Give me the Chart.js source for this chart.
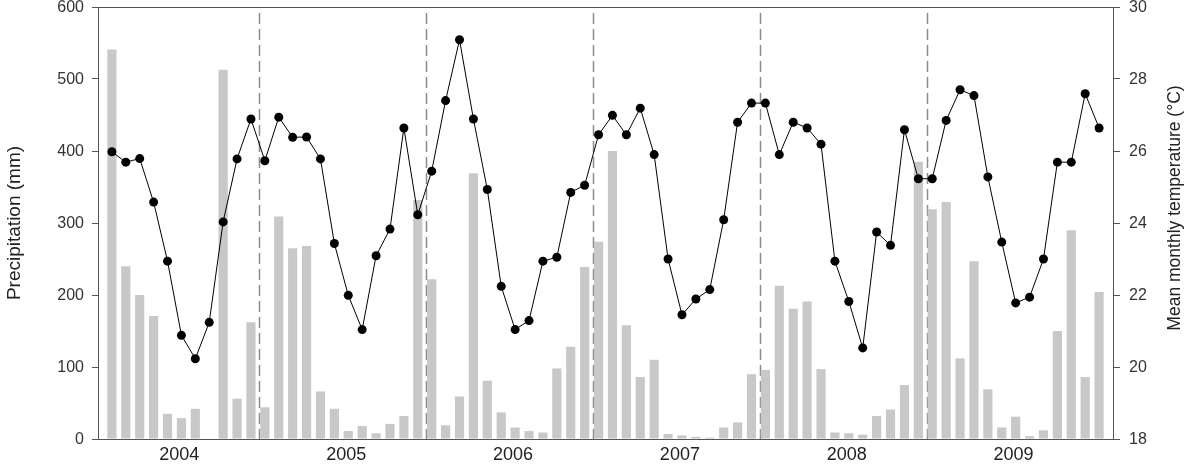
<!DOCTYPE html>
<html>
<head>
<meta charset="utf-8">
<script src="https://cdn.jsdelivr.net/npm/chart.js@4/dist/chart.umd.min.js"></script>
<style>
  body { margin: 0; background: #fff; }
  canvas { display: block; }
</style>
</head>
<body>
<canvas id="chart" width="1197" height="469"></canvas>
<script>
// monthly precipitation (mm), Jan 2004 .. Dec 2009
const precipitation = [
  541, 240, 200, 171, 35, 29, 42, 0, 513, 56, 162, 44,
  309, 265, 268, 66, 42, 11, 18, 8, 21, 32, 332, 222,
  19, 59, 369, 81, 37, 16, 11, 9, 98, 128, 239, 274,
  400, 158, 86, 110, 7, 5, 3, 2, 16, 23, 90, 96,
  213, 181, 191, 97, 9, 8, 6, 32, 41, 75, 385, 319,
  329, 112, 247, 69, 16, 31, 4, 12, 150, 290, 86, 204
];
// mean monthly temperature (°C)
const temperature = [
  25.98, 25.69, 25.79, 24.58, 22.94, 20.88, 20.23, 21.24, 24.03, 25.78, 26.89, 25.73,
  26.94, 26.38, 26.39, 25.78, 23.43, 21.99, 21.04, 23.09, 23.83, 26.64, 24.23, 25.44,
  27.40, 29.09, 26.89, 24.93, 22.24, 21.04, 21.29, 22.94, 23.05, 24.85, 25.05, 26.45,
  26.99, 26.45, 27.19, 25.90, 23.00, 21.45, 21.89, 22.15, 24.09, 26.80, 27.33, 27.33,
  25.90, 26.80, 26.64, 26.19, 22.94, 21.82, 20.53, 23.75, 23.38, 26.59, 25.23, 25.23,
  26.85, 27.70, 27.54, 25.28, 23.47, 21.78, 21.94, 23.00, 25.69, 25.69, 27.59, 26.64
];
const years = ['2004', '2005', '2006', '2007', '2008', '2009'];
const precipTicks = [0, 100, 200, 300, 400, 500, 600];
const tempTicks = [18, 20, 22, 24, 26, 28, 30];

const monthsPerYear = 12;
const labelShift = 4.85;   // where the year label sits inside its block
const dividerShift = 10.6; // where the dashed divider sits

const yearLabelPos = years.map((y, i) => i * monthsPerYear + labelShift);
const dividers = years.slice(1).map((y, i) => i * monthsPerYear + dividerShift);

const AXIS = '#555';
const FONT = 'Liberation Sans, Arial, sans-serif';

const dividerPlugin = {
  id: 'dividers',
  beforeDatasetsDraw(chart) {
    const {ctx, chartArea, scales} = chart;
    ctx.save();
    ctx.strokeStyle = '#8c8c8c';
    ctx.lineWidth = 1.5;
    ctx.setLineDash([11, 5]);
    dividers.forEach(d => {
      const x = Math.round(scales.x.getPixelForValue(d)) + 0.5;
      ctx.beginPath();
      ctx.moveTo(x, chartArea.top + 6);
      ctx.lineTo(x, chartArea.bottom);
      ctx.stroke();
    });
    ctx.restore();
  }
};

const titlePlugin = {
  id: 'sideTitles',
  afterDraw(chart) {
    const {ctx, chartArea} = chart;
    const mid = (chartArea.top + chartArea.bottom) / 2;
    ctx.save();
    ctx.fillStyle = '#222';
    ctx.textAlign = 'center';
    ctx.textBaseline = 'middle';

    ctx.save();
    ctx.translate(15, mid);
    ctx.rotate(-Math.PI / 2);
    ctx.font = '19px ' + FONT;
    ctx.fillText('Precipitation (mm)', 0, 0);
    ctx.restore();

    ctx.save();
    ctx.translate(1175, mid - 15);
    ctx.rotate(-Math.PI / 2);
    ctx.font = '17.5px ' + FONT;
    ctx.fillText('Mean monthly temperature (°C)', 0, 0);
    ctx.restore();

    ctx.restore();
  }
};

function fixY(width) {
  return scale => {
    scale.width = width;
    scale.paddingTop = 0;
    scale.paddingBottom = 0;
  };
}

new Chart(document.getElementById('chart'), {
  type: 'bar',
  data: {
    datasets: [
      {
        type: 'line',
        label: 'Temperature',
        data: temperature.map((v, i) => ({x: i, y: v})),
        yAxisID: 'y1',
        borderColor: '#000',
        borderWidth: 1,
        backgroundColor: '#000',
        pointRadius: 4.5,
        pointBackgroundColor: '#000',
        pointBorderWidth: 0,
        tension: 0,
        order: 0
      },
      {
        type: 'bar',
        label: 'Precipitation',
        data: precipitation.map((v, i) => ({x: i, y: v})),
        yAxisID: 'y',
        backgroundColor: '#c8c8c8',
        borderWidth: 0,
        barPercentage: 0.66,
        categoryPercentage: 1,
        order: 1
      }
    ]
  },
  options: {
    responsive: false,
    animation: false,
    layout: { padding: { top: 7, left: 0, right: 0, bottom: 0 } },
    plugins: {
      legend: { display: false },
      tooltip: { enabled: false }
    },
    scales: {
      x: {
        type: 'linear',
        min: -1,
        max: 72,
        offset: false,
        afterFit(scale) {
          scale.height = 30;
          scale.paddingLeft = 0;
          scale.paddingRight = 0;
        },
        afterBuildTicks(scale) {
          scale.ticks = yearLabelPos.map(v => ({value: v}));
        },
        ticks: {
          autoSkip: false,
          maxRotation: 0,
          padding: 5,
          color: '#222',
          font: { family: FONT, size: 18 },
          callback: (v, idx) => years[idx]
        },
        grid: { display: false, drawTicks: false },
        border: { display: true, color: AXIS, width: 1 }
      },
      y: {
        position: 'left',
        min: 0,
        max: 600,
        afterFit: fixY(98),
        afterBuildTicks(scale) {
          scale.ticks = precipTicks.map(v => ({value: v}));
        },
        ticks: {
          padding: 8,
          labelOffset: 1,
          color: '#333',
          font: { family: FONT, size: 16 }
        },
        grid: {
          drawOnChartArea: true,
          color: c => (c.tick && c.tick.value === 600) ? AXIS : 'rgba(0,0,0,0)',
          tickColor: AXIS,
          tickLength: 6,
          lineWidth: 1
        },
        border: { display: true, color: AXIS, width: 1 }
      },
      y1: {
        position: 'right',
        min: 18,
        max: 30,
        afterFit: fixY(84),
        afterBuildTicks(scale) {
          scale.ticks = tempTicks.map(v => ({value: v}));
        },
        ticks: {
          padding: 9,
          labelOffset: 1,
          color: '#333',
          font: { family: FONT, size: 16 }
        },
        grid: {
          drawOnChartArea: false,
          color: AXIS,
          tickLength: 7
        },
        border: { display: true, color: AXIS, width: 1 }
      }
    }
  },
  plugins: [dividerPlugin, titlePlugin]
});
</script>
</body>
</html>
